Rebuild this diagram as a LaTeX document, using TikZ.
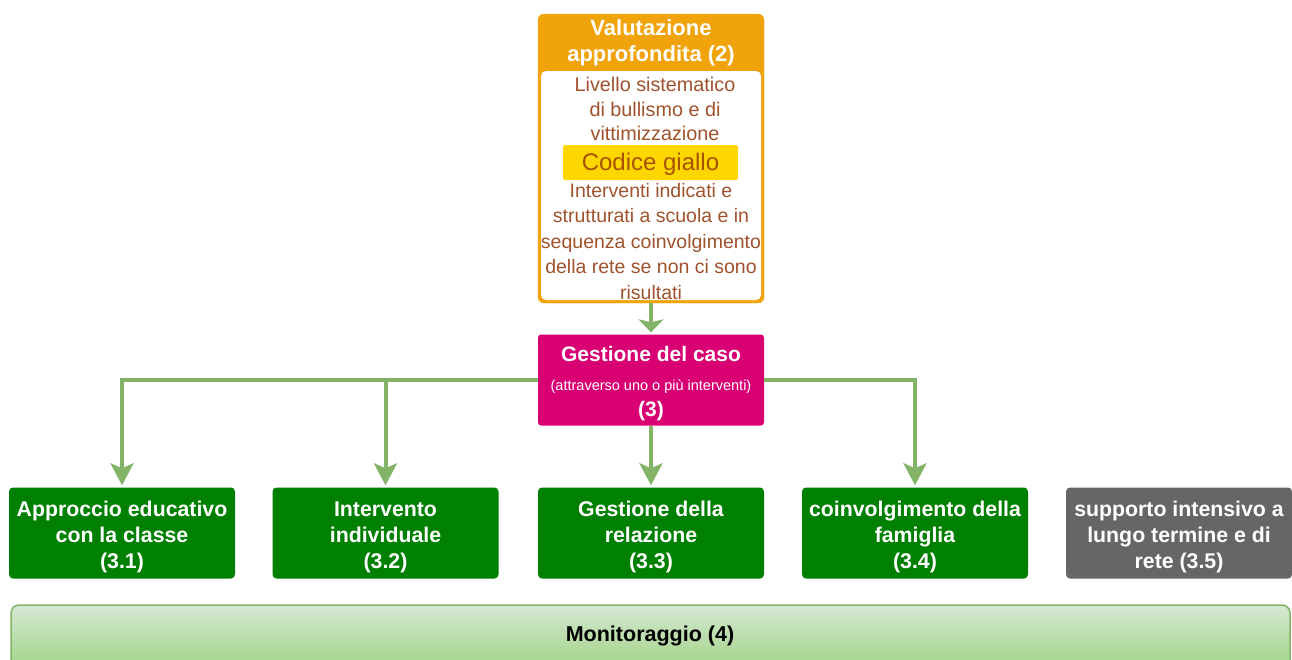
\documentclass[tikz,border=0pt]{standalone}
\usepackage{fontspec}
\setmainfont{Liberation Sans}
\usetikzlibrary{arrows.meta}

\definecolor{orangeV}{HTML}{F0A30A}
\definecolor{brownT}{HTML}{A0522D}
\definecolor{gialloC}{HTML}{FFD700}
\definecolor{gialloT}{HTML}{A65200}
\definecolor{magentaG}{HTML}{D80073}
\definecolor{greenB}{HTML}{008000}
\definecolor{greyB}{HTML}{666666}
\definecolor{greenL}{HTML}{82B366}
\definecolor{monTop}{HTML}{D5E8D4}
\definecolor{monBot}{HTML}{97D077}

\begin{document}
\begin{tikzpicture}[x=1pt, y=-1pt,
		box/.style={rectangle, rounded corners=4pt, minimum width=226pt, minimum height=91pt, inner sep=0pt},
		boxtext/.style={align=center, text=white, font=\fontsize{21.3}{26}\selectfont\bfseries},
		conn/.style={line width=4pt, greenL, -{Stealth[length=22pt, width=23pt, inset=5pt]}, shorten >=2pt}]
			\useasboundingbox (0,0) rectangle (1292,659);
			
			% Valutazione approfondita
			\draw[fill=orangeV, draw=orangeV, rounded corners=6pt] (538,14) rectangle (764,303);
			\fill[white, rounded corners=5pt] (541,71) rectangle (761,300);
			\coordinate (Vs) at (651,303);
			\node[align=center, text=white, font=\fontsize{22}{26}\selectfont\bfseries] (ValH) at (651,43) {Valutazione\\approfondita (2)};
			\node[align=center, text=brownT, font=\fontsize{19.8}{24.5}\selectfont] (ValA) at (655,109) {Livello sistematico\\di bullismo e di\\vittimizzazione};
			\node[fill=gialloC, rounded corners=2pt, minimum width=175pt, minimum height=35pt, inner sep=0pt] (Cod) at (650.5,162.5) {};
			\node[text=gialloT, font=\fontsize{24}{26}\selectfont] (CodT) at ([yshift=-2pt]Cod.center) {Codice giallo};
			\node[align=center, text=brownT, font=\fontsize{19.5}{25.5}\selectfont] (ValB) at (651,241.5) {Interventi indicati e\\strutturati a scuola e in\\sequenza coinvolgimento\\della rete se non ci sono\\risultati};
			
			% Gestione del caso
			\node[box, fill=magentaG, rounded corners=3pt] (Gest) at (651,380) {};
			\node[boxtext, font=\fontsize{21}{26}\selectfont\bfseries] (GestT) at ([yshift=-3.5pt]Gest.center)
				{Gestione del caso\\[2.5pt]{\fontsize{14.5}{16}\selectfont\mdseries (attraverso uno o più interventi)}\\[0pt](3)};
			\draw[line width=4pt, greenL, -{Stealth[length=13pt, width=25pt, inset=3pt]}, shorten >=2pt] (Vs) -- (Gest.north);
			
			% Interventi
			\node[box, fill=greenB] (A1) at (122,533) {};
			\node[box, fill=greenB] (A2) at (385.5,533) {};
			\node[box, fill=greenB] (A3) at (651,533) {};
			\node[box, fill=greenB] (A4) at (915,533) {};
			\node[box, fill=greyB] (A5) at (1179,533) {};
			\node[boxtext] (A1t) at ([yshift=-4pt]A1.center) {Approccio educativo\\con la classe\\(3.1)};
			\node[boxtext] (A2t) at ([yshift=-4pt]A2.center) {Intervento\\individuale\\(3.2)};
			\node[boxtext] (A3t) at ([yshift=-4pt]A3.center) {Gestione della\\relazione\\(3.3)};
			\node[boxtext] (A4t) at ([yshift=-4pt]A4.center) {coinvolgimento della\\famiglia\\(3.4)};
			\node[boxtext] (A5t) at ([yshift=-4pt]A5.center) {supporto intensivo a\\lungo termine e di\\rete (3.5)};
			
			\draw[conn] (Gest.west) -| (A1.north);
			\draw[conn] (Gest.west) -| (A2.north);
			\draw[conn] (Gest.south) -- (A3.north);
			\draw[conn] (Gest.east) -| (A4.north);
			
			% Monitoraggio
			\begin{scope}
				\clip (0,0) rectangle (1292,659);
				\draw[greenL, line width=1.5pt, rounded corners=8pt, top color=monTop, bottom color=monBot] (11,605) rectangle (1290,680);
			\end{scope}
			\node[font=\fontsize{21.5}{22}\selectfont\bfseries] (Mon) at (650,636) {Monitoraggio (4)};
	\end{tikzpicture}
\end{document}
